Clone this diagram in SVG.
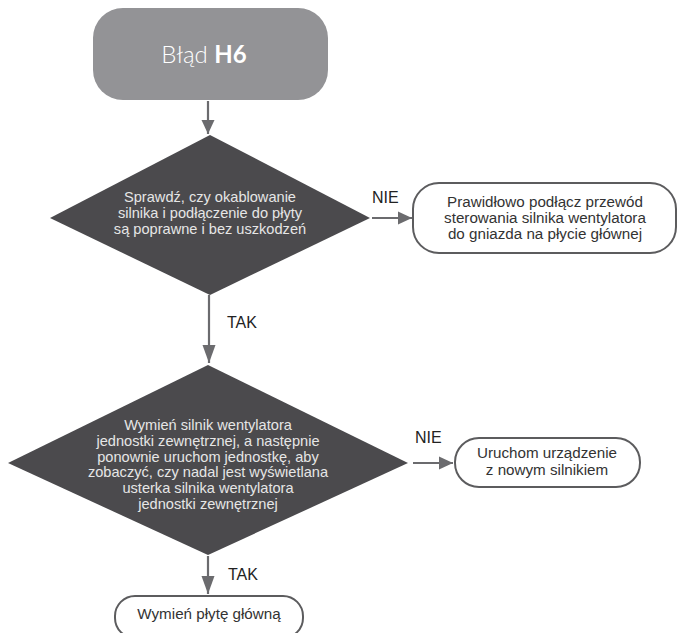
<svg xmlns="http://www.w3.org/2000/svg" width="678" height="633" viewBox="0 0 678 633">
<style>
.conn{stroke:#6b6b6e;stroke-width:2.2;fill:none;}
.dia{fill:#4b4a4d;}
.dtext{fill:#e6e6e6;font-family:"Liberation Sans",Arial,sans-serif;font-size:14.6px;text-anchor:middle;}
.box{fill:#ffffff;stroke:#5c5c5e;stroke-width:2;}
.btext{fill:#333333;font-family:"Liberation Sans",Arial,sans-serif;font-size:15.2px;text-anchor:middle;}
.lbl{fill:#222222;font-family:"Liberation Sans",Arial,sans-serif;font-size:16px;}
</style>
<defs>
<marker id="arr" markerWidth="14" markerHeight="14" viewBox="0 0 14 14" refX="14" refY="7" orient="auto" markerUnits="userSpaceOnUse">
<path d="M0,0.5 L14,7 L0,13.5 Z" fill="#6b6b6e"/>
</marker>
<marker id="arrL" markerWidth="18" markerHeight="14" viewBox="0 0 18 14" refX="18" refY="7" orient="auto" markerUnits="userSpaceOnUse">
<path d="M0,0.5 L18,7 L0,13.5 Z" fill="#6b6b6e"/>
</marker>
</defs>
<g id="connectors">
<line class="conn" x1="208" y1="101" x2="208" y2="134" marker-end="url(#arr)"/>
<line class="conn" x1="372" y1="218" x2="412" y2="218" marker-end="url(#arr)"/>
<line class="conn" x1="209" y1="295" x2="209" y2="363" marker-end="url(#arrL)"/>
<line class="conn" x1="413" y1="463" x2="453" y2="463" marker-end="url(#arr)"/>
<line class="conn" x1="208" y1="556" x2="208" y2="594" marker-end="url(#arrL)"/>
<text class="lbl" x="372" y="203">NIE</text>
<text class="lbl" x="227" y="328">TAK</text>
<text class="lbl" x="415" y="443">NIE</text>
<text class="lbl" x="228" y="580">TAK</text>
</g>
<g id="start">
<rect x="93" y="8" width="235" height="92" rx="30" ry="30" fill="#939396"/>
<text x="204" y="63" text-anchor="middle" font-family="Lato,'Open Sans',sans-serif" font-size="24" font-weight="300" fill="#ffffff">Błąd <tspan font-weight="bold">H6</tspan></text>
</g>
<g id="decision1">
<polygon class="dia" points="210,135 370,218 210,295 50,218"/>
<text class="dtext" x="210" y="202">Sprawdź, czy okablowanie</text>
<text class="dtext" x="210" y="218">silnika i podłączenie do płyty</text>
<text class="dtext" x="210" y="234">są poprawne i bez uszkodzeń</text>
</g>
<g id="action1">
<rect class="box" x="413" y="183" width="263" height="70" rx="26" ry="26"/>
<text class="btext" x="545" y="207">Prawidłowo podłącz przewód</text>
<text class="btext" x="545" y="223">sterowania silnika wentylatora</text>
<text class="btext" x="545" y="239">do gniazda na płycie głównej</text>
</g>
<g id="decision2">
<polygon class="dia" points="208,365 408,463 208,555 8,463"/>
<text class="dtext" x="208" y="430">Wymień silnik wentylatora</text>
<text class="dtext" x="208" y="446">jednostki zewnętrznej, a następnie</text>
<text class="dtext" x="208" y="462">ponownie uruchom jednostkę, aby</text>
<text class="dtext" x="208" y="477">zobaczyć, czy nadal jest wyświetlana</text>
<text class="dtext" x="208" y="493">usterka silnika wentylatora</text>
<text class="dtext" x="208" y="509">jednostki zewnętrznej</text>
</g>
<g id="action2">
<rect class="box" x="455" y="438" width="185" height="49" rx="24" ry="24"/>
<text class="btext" x="547" y="458">Uruchom urządzenie</text>
<text class="btext" x="547" y="475">z nowym silnikiem</text>
</g>
<g id="action3">
<rect class="box" x="115" y="596" width="188" height="42" rx="20" ry="20"/>
<text class="btext" x="209" y="619">Wymień płytę główną</text>
</g>
</svg>
